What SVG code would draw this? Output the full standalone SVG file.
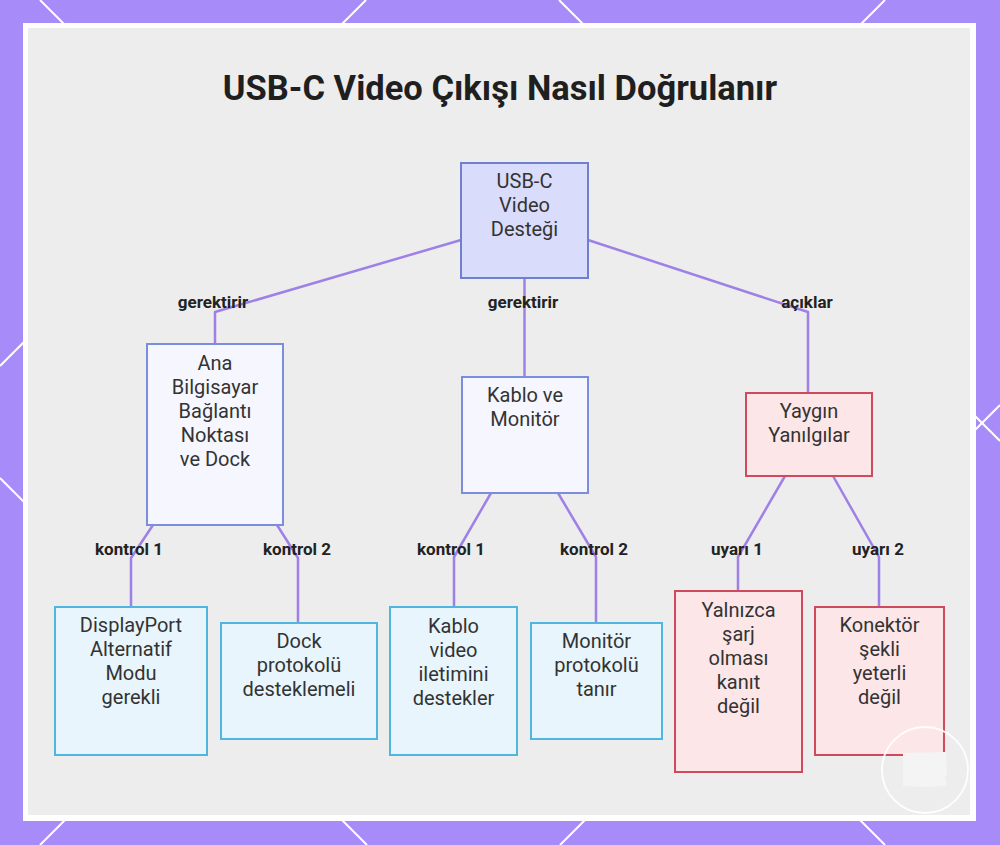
<svg xmlns="http://www.w3.org/2000/svg" width="1000" height="845" viewBox="0 0 1000 845">
<defs>
<style>
.lattice{stroke:#ffffff;stroke-width:2;fill:none}
.title{font-family:Roboto,"Liberation Sans",sans-serif;font-weight:700;font-size:34.5px;fill:#1f1f1f;text-anchor:middle}
.nt{font-family:Roboto,"Liberation Sans",sans-serif;font-size:20px;fill:#333333;text-anchor:middle}
.lbl{font-family:Roboto,"Liberation Sans",sans-serif;font-weight:700;font-size:17px;fill:#222222;text-anchor:middle}
.conn{stroke:#9f80e6;stroke-width:2.5;fill:none;stroke-linejoin:round}
.root{fill:#d9dcfa;stroke:#6f80cf;stroke-width:2}
.mid{fill:#f5f6fe;stroke:#7b8ede;stroke-width:2}
.leaf{fill:#e8f5fc;stroke:#4fb6e0;stroke-width:2}
.warn{fill:#fde6e8;stroke:#d04a5d;stroke-width:2}
</style>
</defs>
<rect x="0" y="0" width="1000" height="845" fill="#a78bf8"/>
<g id="lattice">
<line class="lattice" x1="40" y1="0" x2="885" y2="845"/>
<line class="lattice" x1="366" y1="0" x2="0" y2="366"/>
<line class="lattice" x1="559" y1="0" x2="1000" y2="441"/>
<line class="lattice" x1="885" y1="0" x2="40" y2="845"/>
<line class="lattice" x1="0" y1="478" x2="367" y2="845"/>
<line class="lattice" x1="1000" y1="405" x2="560" y2="845"/>
</g>
<rect x="23" y="23" width="953" height="798" fill="#ffffff"/>
<rect x="28" y="28" width="942" height="787" fill="#ededed"/>
<text class="title" x="500" y="100">USB-C Video Çıkışı Nasıl Doğrulanır</text>
<g id="connectors">
<polyline class="conn" points="461,240 215,312 215,344"/>
<polyline class="conn" points="524.5,278 524.5,377"/>
<polyline class="conn" points="588,240 808,312 808,393"/>
<polyline class="conn" points="153,525 131,558 131,607"/>
<polyline class="conn" points="277,525 298,558 298,623"/>
<polyline class="conn" points="491,493 454,557 454,607"/>
<polyline class="conn" points="558,493 596,557 596,623"/>
<polyline class="conn" points="785,476 738,557 738,591"/>
<polyline class="conn" points="833,476 879,557 879,607"/>
<text class="lbl" x="213" y="308">gerektirir</text>
<text class="lbl" x="523" y="308">gerektirir</text>
<text class="lbl" x="807" y="308">açıklar</text>
<text class="lbl" x="129" y="555">kontrol 1</text>
<text class="lbl" x="297" y="555">kontrol 2</text>
<text class="lbl" x="451" y="555">kontrol 1</text>
<text class="lbl" x="594" y="555">kontrol 2</text>
<text class="lbl" x="737" y="555">uyarı 1</text>
<text class="lbl" x="878" y="555">uyarı 2</text>
</g>
<g id="node-root">
<rect class="root" x="461" y="163" width="127" height="115"/>
<text class="nt" x="524.5" y="188">USB-C</text>
<text class="nt" x="524.5" y="212">Video</text>
<text class="nt" x="524.5" y="236">Desteği</text>
</g>
<g id="node-host">
<rect class="mid" x="147" y="344" width="136" height="181"/>
<text class="nt" x="215" y="370">Ana</text>
<text class="nt" x="215" y="394">Bilgisayar</text>
<text class="nt" x="215" y="418">Bağlantı</text>
<text class="nt" x="215" y="442">Noktası</text>
<text class="nt" x="215" y="466">ve Dock</text>
</g>
<g id="node-cable">
<rect class="mid" x="462" y="377" width="126" height="116"/>
<text class="nt" x="525" y="402">Kablo ve</text>
<text class="nt" x="525" y="426">Monitör</text>
</g>
<g id="node-myths">
<rect class="warn" x="746" y="393" width="126" height="83"/>
<text class="nt" x="809" y="418">Yaygın</text>
<text class="nt" x="809" y="442">Yanılgılar</text>
</g>
<g id="node-dp">
<rect class="leaf" x="55" y="607" width="152" height="148"/>
<text class="nt" x="131" y="632">DisplayPort</text>
<text class="nt" x="131" y="656">Alternatif</text>
<text class="nt" x="131" y="680">Modu</text>
<text class="nt" x="131" y="704">gerekli</text>
</g>
<g id="node-dock">
<rect class="leaf" x="221" y="623" width="156" height="116"/>
<text class="nt" x="299" y="648">Dock</text>
<text class="nt" x="299" y="672">protokolü</text>
<text class="nt" x="299" y="696">desteklemeli</text>
</g>
<g id="node-cablevideo">
<rect class="leaf" x="390" y="607" width="127" height="148"/>
<text class="nt" x="453.5" y="633">Kablo</text>
<text class="nt" x="453.5" y="657">video</text>
<text class="nt" x="453.5" y="681">iletimini</text>
<text class="nt" x="453.5" y="705">destekler</text>
</g>
<g id="node-monitor">
<rect class="leaf" x="531" y="623" width="131" height="116"/>
<text class="nt" x="596.5" y="648">Monitör</text>
<text class="nt" x="596.5" y="672">protokolü</text>
<text class="nt" x="596.5" y="696">tanır</text>
</g>
<g id="node-charge">
<rect class="warn" x="675" y="591" width="127" height="181"/>
<text class="nt" x="738.5" y="617">Yalnızca</text>
<text class="nt" x="738.5" y="641">şarj</text>
<text class="nt" x="738.5" y="665">olması</text>
<text class="nt" x="738.5" y="689">kanıt</text>
<text class="nt" x="738.5" y="713">değil</text>
</g>
<g id="node-connector">
<rect class="warn" x="815" y="607" width="129" height="148"/>
<text class="nt" x="879.5" y="632">Konektör</text>
<text class="nt" x="879.5" y="656">şekli</text>
<text class="nt" x="879.5" y="680">yeterli</text>
<text class="nt" x="879.5" y="704">değil</text>
</g>
<g id="badge">
<circle cx="925" cy="770" r="43" fill="none" stroke="#ffffff" stroke-width="1.8" opacity="0.9"/>
<path d="M903,753 L946,752 L947,775 L945,777 L947,786 L928,787 L903,786 Z" fill="#f4f4f4"/>
</g>
</svg>
